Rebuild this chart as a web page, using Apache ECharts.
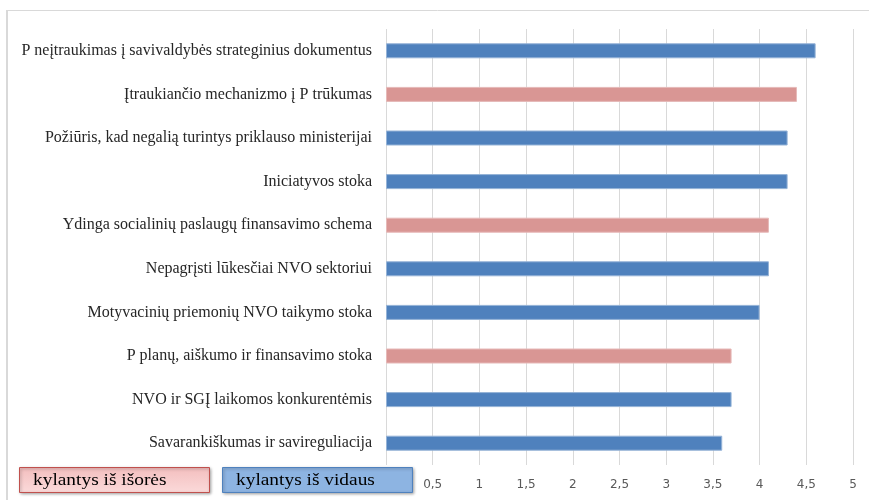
<!DOCTYPE html>
<html><head><meta charset="utf-8">
<script src="https://cdn.jsdelivr.net/npm/echarts@6/dist/echarts.min.js"></script>
<style>html,body{margin:0;padding:0;background:#fff}#c{width:869px;height:500px}</style>
</head><body><div id="c"></div>
<script>
const categories = [
  "P neįtraukimas į savivaldybės strateginius dokumentus",
  "Įtraukiančio mechanizmo į P trūkumas",
  "Požiūris, kad negalią turintys priklauso ministerijai",
  "Iniciatyvos stoka",
  "Ydinga socialinių paslaugų finansavimo schema",
  "Nepagrįsti lūkesčiai NVO sektoriui",
  "Motyvacinių priemonių NVO taikymo stoka",
  "P planų, aiškumo ir finansavimo stoka",
  "NVO ir SGĮ laikomos konkurentėmis",
  "Savarankiškumas ir savireguliacija"
];
const values = [4.6, 4.4, 4.3, 4.3, 4.1, 4.1, 4.0, 3.7, 3.7, 3.6];
const groups = ["in", "out", "in", "in", "out", "in", "in", "out", "in", "in"];
const seriesNames = ["kylantys iš išorės", "kylantys iš vidaus"];

const outer = values.map((v, i) => groups[i] === "out" ? v : null);
const inner = values.map((v, i) => groups[i] === "in" ? v : null);

const chart = echarts.init(document.getElementById('c'));
const serif = '"Liberation Serif", "Times New Roman", serif';
chart.setOption({
  animation: false,
  grid: { left: 386, right: 16, top: 29, bottom: 35 },
  xAxis: {
    type: 'value', min: 0, max: 5, interval: 0.5,
    axisLine: { show: false }, axisTick: { show: false },
    splitLine: { lineStyle: { color: '#d9d9d9', width: 1 } },
    axisLabel: {
      showMinLabel: false, margin: 14, color: '#595959', fontFamily: '"DejaVu Sans", sans-serif', fontSize: 12,
      formatter: v => String(v).replace('.', ',')
    }
  },
  yAxis: {
    type: 'category', data: categories, inverse: true,
    axisLine: { show: false }, axisTick: { show: false },
    axisLabel: { color: '#262626', fontFamily: serif, fontSize: 16, margin: 14 }
  },
  series: [
    { name: seriesNames[0], type: 'bar', stack: 's', data: outer, barWidth: 15,
      itemStyle: { color: '#D99694', borderColor: '#E6B9B8', borderWidth: 1 } },
    { name: seriesNames[1], type: 'bar', stack: 's', data: inner, barWidth: 15,
      itemStyle: { color: '#4F81BD', borderColor: '#95B3D7', borderWidth: 1 } }
  ],
  graphic: [
    { type: 'line', shape: { x1: 6, y1: 10.5, x2: 869, y2: 10.5 }, style: { stroke: '#d9d9d9', lineWidth: 1 }, silent: true },
    { type: 'line', shape: { x1: 7, y1: 10, x2: 7, y2: 500 }, style: { stroke: '#d9d9d9', lineWidth: 2 }, silent: true },
    { type: 'rect', shape: { x: 19.5, y: 467.5, width: 190, height: 25 },
      style: {
        fill: new echarts.graphic.LinearGradient(0, 0, 0, 1, [{ offset: 0, color: '#F3BEBE' }, { offset: 1, color: '#FBDADA' }]),
        stroke: '#C0504D', lineWidth: 1, shadowBlur: 3, shadowColor: 'rgba(0,0,0,0.35)', shadowOffsetX: 1, shadowOffsetY: 1 } },
    { type: 'text', x: 33, y: 481, scaleX: 1.14, style: { text: seriesNames[0], font: '17px ' + serif, fill: '#000', verticalAlign: 'middle' } },
    { type: 'rect', shape: { x: 222.5, y: 467.5, width: 190, height: 25 },
      style: { fill: '#8DB4E2', stroke: '#4F81BD', lineWidth: 1, shadowBlur: 3, shadowColor: 'rgba(0,0,0,0.35)', shadowOffsetX: 1, shadowOffsetY: 1 } },
    { type: 'text', x: 236, y: 481, scaleX: 1.14, style: { text: seriesNames[1], font: '17px ' + serif, fill: '#000', verticalAlign: 'middle' } }
  ]
});
</script></body></html>
